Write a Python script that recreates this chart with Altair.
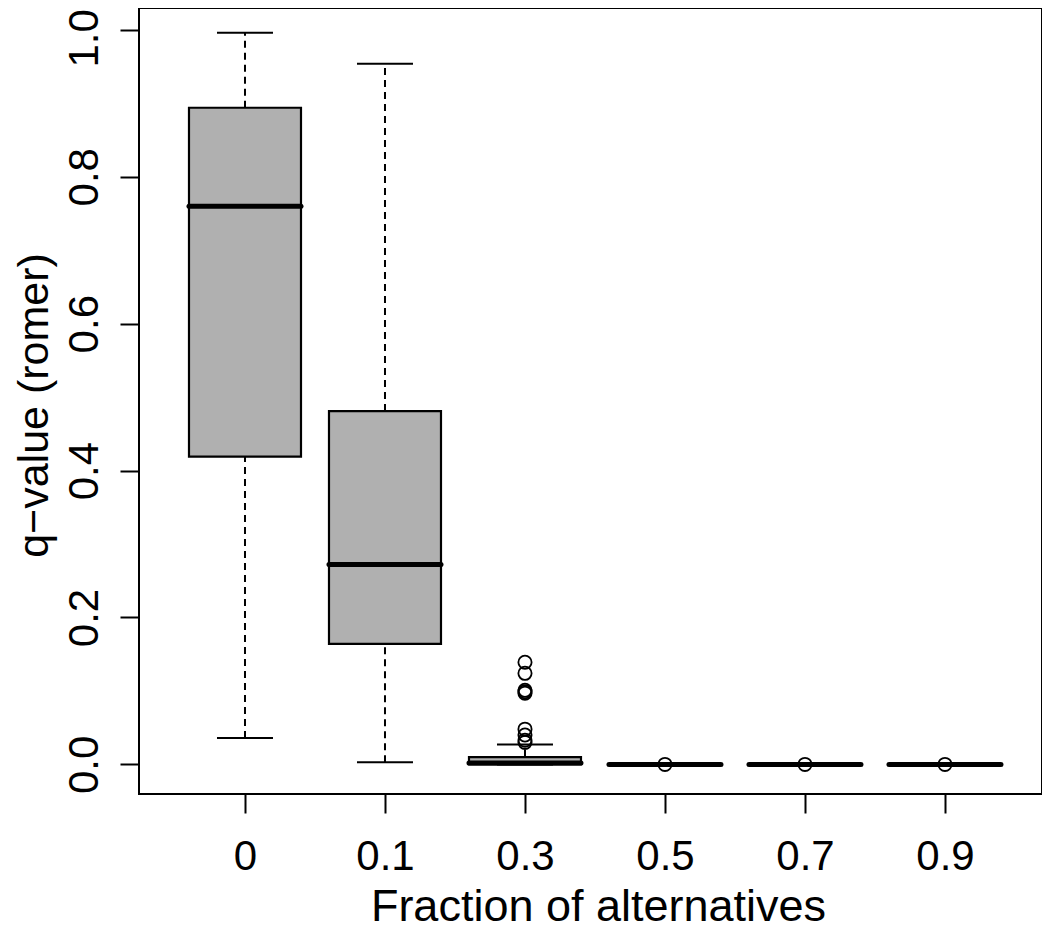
import altair as alt
import pandas as pd

# ---- data ----
groups = ["0", "0.1", "0.3", "0.5", "0.7", "0.9"]
whisker_low = [0.036, 0.003, 0.0, 0.0, 0.0, 0.0]
q1 = [0.419, 0.164, 0.0, 0.0, 0.0, 0.0]
median = [0.760, 0.272, 0.002, 0.0, 0.0, 0.0]
q3 = [0.894, 0.481, 0.010, 0.0, 0.0, 0.0]
whisker_high = [0.996, 0.954, 0.027, 0.0, 0.0, 0.0]

outlier_group = ["0.3", "0.3", "0.3", "0.3", "0.3", "0.3", "0.3", "0.3", "0.3",
                 "0.5", "0.7", "0.9"]
outlier_value = [0.139, 0.124, 0.101, 0.099, 0.097, 0.048, 0.040, 0.033, 0.030,
                 0.0, 0.0, 0.0]

y_ticks = [0.0, 0.2, 0.4, 0.6, 0.8, 1.0]

# ---- tables ----
pos = list(range(1, len(groups) + 1))
box = pd.DataFrame({
    "group": groups, "pos": pos, "low": whisker_low, "q1": q1,
    "median": median, "q3": q3, "high": whisker_high,
})
box["left"] = box["pos"] - 0.4
box["right"] = box["pos"] + 0.4
box["capl"] = box["pos"] - 0.2
box["capr"] = box["pos"] + 0.2

out = pd.DataFrame({"group": outlier_group, "value": outlier_value})
out["pos"] = out["group"].map({g: i + 1 for i, g in enumerate(groups)})

FONT = "Liberation Sans"
label_expr = "[" + ",".join("'%s'" % g for g in groups) + "][datum.value - 1]"

xscale = alt.Scale(domain=[0.2429, 6.693], nice=False, zero=False)
yscale = alt.Scale(domain=[-0.0403, 1.0298], nice=False, zero=False)

x_axis = alt.Axis(
    values=pos, labelExpr=label_expr, title="Fraction of alternatives",
    domain=False, grid=False, tickSize=19, tickWidth=2, tickColor="black",
    labelFontSize=42, labelFont=FONT, labelColor="black",
    labelBaseline="alphabetic", labelPadding=56, labelFlush=False,
    labelOverlap=False,
    titleFont=FONT, titleFontSize=45, titleFontWeight="normal",
    titleColor="black", titleBaseline="alphabetic", titleAlign="center",
    titleX=459, titleY=126,
)
y_axis = alt.Axis(
    values=y_ticks, format=".1f", title="q−value (romer)",
    domain=False, grid=False, tickSize=19, tickWidth=2, tickColor="black",
    labelFontSize=42, labelFont=FONT, labelColor="black",
    labelAngle=270, labelAlign="center", labelBaseline="alphabetic",
    labelPadding=23, labelFlush=False, labelOverlap=False,
    labelOffset={"condition": {"test": "datum.value >= 1", "value": 8}, "value": 0},
    titleFont=FONT, titleFontSize=43, titleFontWeight="normal",
    titleColor="black", titleAngle=270, titleAlign="center",
    titleBaseline="alphabetic", titleX=-92, titleY=397,
)

X = lambda f: alt.X(f, scale=xscale, axis=x_axis)
Y = lambda f: alt.Y(f, scale=yscale, axis=y_axis)

base = alt.Chart(box)

upper_whisker = base.mark_rule(color="black", strokeWidth=2, strokeDash=[7, 5]).encode(
    x=X("pos:Q"), y=Y("q3:Q"), y2="high:Q",
)
lower_whisker = base.mark_rule(color="black", strokeWidth=2, strokeDash=[7, 5]).encode(
    x=X("pos:Q"), y=Y("low:Q"), y2="q1:Q",
)
cap_high = base.mark_rule(color="black", strokeWidth=2).encode(
    x=X("capl:Q"), x2="capr:Q", y=Y("high:Q"),
)
cap_low = base.mark_rule(color="black", strokeWidth=2).encode(
    x=X("capl:Q"), x2="capr:Q", y=Y("low:Q"),
)
boxes = base.mark_rect(fill="#B0B0B0", stroke="black", strokeWidth=2.2).encode(
    x=X("left:Q"), x2="right:Q", y=Y("q1:Q"), y2="q3:Q",
)
medians = base.mark_rule(color="black", strokeWidth=5, strokeCap="round").encode(
    x=X("left:Q"), x2="right:Q", y=Y("median:Q"),
)
outliers = alt.Chart(out).mark_point(
    shape="circle", filled=False, color="black", strokeWidth=1.8,
    size=175, opacity=1,
).encode(
    x=X("pos:Q"), y=Y("value:Q"),
)

chart = alt.layer(
    upper_whisker, lower_whisker, cap_high, cap_low, boxes, medians, outliers
).properties(
    width=903, height=786,
    autosize=alt.AutoSizeParams(type="none"),
    padding={"left": 131, "top": 0, "right": 0, "bottom": 136},
    background="white",
).configure_view(
    stroke="black", strokeWidth=2, fill="white",
)

chart.save("out.html", embed_options={"renderer": "svg", "actions": False})
